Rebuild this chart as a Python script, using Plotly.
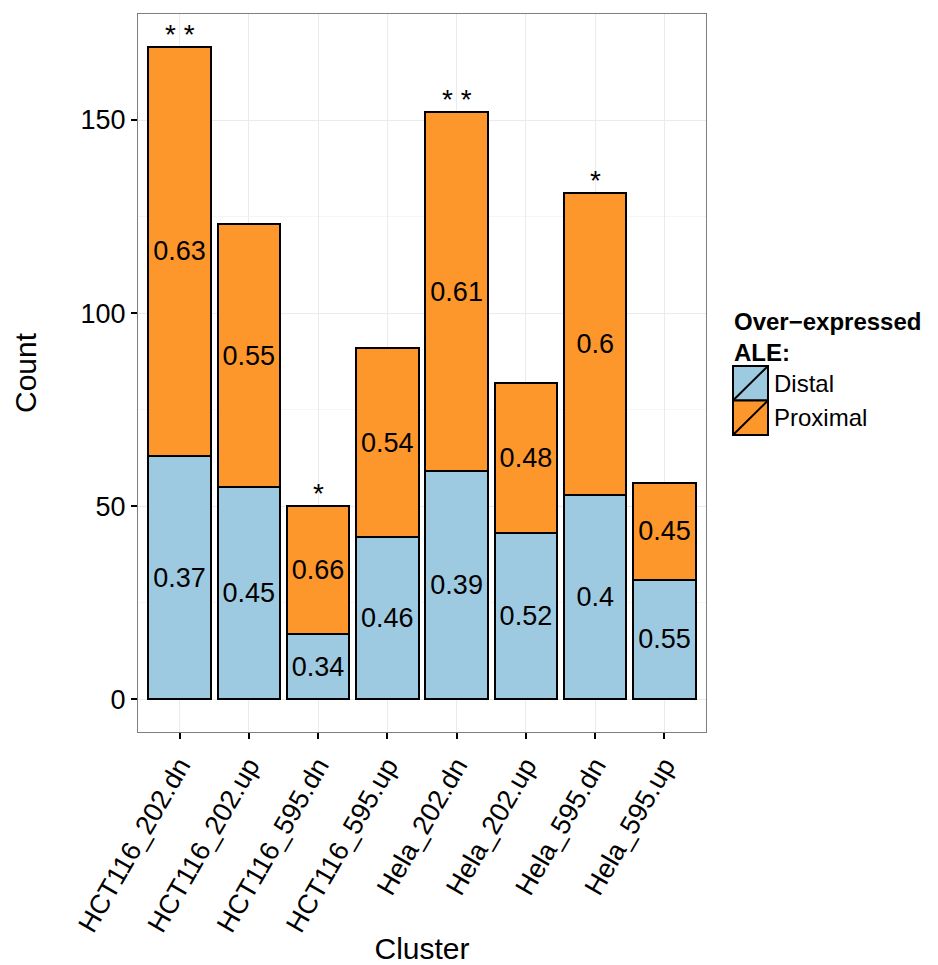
import plotly.graph_objects as go

clusters = ["HCT116_202.dn", "HCT116_202.up", "HCT116_595.dn", "HCT116_595.up",
            "Hela_202.dn", "Hela_202.up", "Hela_595.dn", "Hela_595.up"]
distal = [63, 55, 17, 42, 59, 43, 53, 31]
proximal = [106, 68, 33, 49, 93, 39, 78, 25]
distal_frac = ["0.37", "0.45", "0.34", "0.46", "0.39", "0.52", "0.4", "0.55"]
proximal_frac = ["0.63", "0.55", "0.66", "0.54", "0.61", "0.48", "0.6", "0.45"]
signif = ["* *", "", "*", "", "* *", "", "*", ""]

BLUE = "#9ecae1"
ORANGE = "#fd962b"
FONT = "Liberation Sans, Arial, Helvetica, sans-serif"

W, H = 938, 965
L, R, T, B = 138, 706, 14, 732  # panel edges in pixels

xs = list(range(1, len(clusters) + 1))

fig = go.Figure()
for vals, labels, color, name in [(distal, distal_frac, BLUE, "Distal"),
                                  (proximal, proximal_frac, ORANGE, "Proximal")]:
    fig.add_trace(go.Bar(
        x=xs, y=vals, name=name, width=0.9,
        marker=dict(color=color, line=dict(color="black", width=2)),
        text=labels, textposition="inside", insidetextanchor="middle",
        constraintext="none", textangle=0,
        textfont=dict(family=FONT, size=27, color="black"),
        showlegend=False,
    ))

totals = [d + p for d, p in zip(distal, proximal)]
for x, tot, s in zip(xs, totals, signif):
    if s:
        fig.add_annotation(x=x, y=tot, text=s, showarrow=False, yanchor="bottom",
                           yshift=-5, font=dict(family=FONT, size=28, color="black"))

# Legend drawn by hand: keys with the diagonal slash
def px_x(p):
    return (p - L) / (R - L)

def px_y(p):
    return (B - p) / (B - T)

fig.add_annotation(xref="paper", yref="paper", x=px_x(732), y=px_y(306),
                   xanchor="left", yanchor="top", align="left", showarrow=False,
                   text="<b>Over\u2212expressed<br>ALE:</b>",
                   font=dict(family=FONT, size=24, color="black"))
for i, (color, name) in enumerate([(BLUE, "Distal"), (ORANGE, "Proximal")]):
    y0 = 366 + i * 34.5
    y1 = y0 + 34.5
    fig.add_shape(type="rect", xref="paper", yref="paper",
                  x0=px_x(733), x1=px_x(768), y0=px_y(y1), y1=px_y(y0),
                  fillcolor=color, line=dict(color="black", width=2))
    fig.add_shape(type="line", xref="paper", yref="paper",
                  x0=px_x(734), x1=px_x(767), y0=px_y(y1 - 1), y1=px_y(y0 + 1),
                  line=dict(color="black", width=2))
    fig.add_annotation(xref="paper", yref="paper", x=px_x(772), y=px_y((y0 + y1) / 2),
                       xanchor="left", yanchor="middle", showarrow=False, text=name,
                       font=dict(family=FONT, size=24, color="black"))

fig.update_layout(
    width=W, height=H,
    margin=dict(l=L, r=W - R, t=T, b=H - B, autoexpand=False),
    barmode="stack",
    plot_bgcolor="white", paper_bgcolor="white",
    font=dict(family=FONT, color="black"),
    xaxis=dict(
        range=[0.4, 8.6], tickmode="array", tickvals=xs, ticktext=clusters,
        tickangle=-60, tickfont=dict(size=27, color="black"),
        ticks="outside", ticklen=6, tickwidth=2, tickcolor="black",
        showgrid=True, gridcolor="#ebebeb", gridwidth=1,
        showline=True, linecolor="#7f7f7f", linewidth=1, mirror=True,
        zeroline=False, automargin=False,
        title=dict(text="Cluster", font=dict(size=30, color="black"), standoff=12),
    ),
    yaxis=dict(
        range=[-8.45, 177.45], tickvals=[0, 50, 100, 150],
        tickfont=dict(size=27, color="black"),
        ticks="outside", ticklen=6, tickwidth=2, tickcolor="black",
        showgrid=True, gridcolor="#ebebeb", gridwidth=1,
        minor=dict(tickvals=[25, 75, 125], showgrid=True, gridcolor="#f5f5f5", gridwidth=1),
        showline=True, linecolor="#7f7f7f", linewidth=1, mirror=True,
        zeroline=False, automargin=False,
        title=dict(text="Count", font=dict(size=30, color="black"), standoff=35),
    ),
)

fig.write_html("out.html")
